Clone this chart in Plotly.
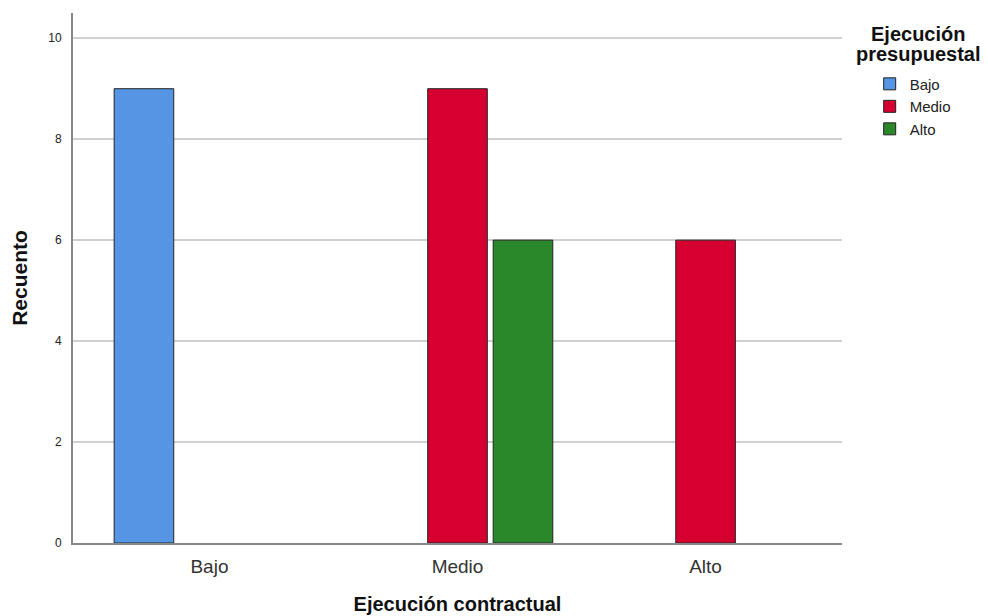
import plotly.graph_objects as go

categories = ["Bajo", "Medio", "Alto"]
serie_bajo = [9, None, None]
serie_medio = [None, 9, 6]
serie_alto = [None, 6, None]
series_names = ["Bajo", "Medio", "Alto"]
colors = ["#5595E3", "#D5002F", "#2A882A"]

FONT = "Liberation Sans, Arial, sans-serif"

fig = go.Figure()
for name, vals, col in zip(series_names, [serie_bajo, serie_medio, serie_alto], colors):
    fig.add_trace(go.Bar(
        x=categories, y=vals, name=name,
        marker=dict(color=col, line=dict(color="#222222", width=1)),
    ))

fig.update_layout(
    width=988, height=616,
    margin=dict(l=65, r=154, t=5, b=81, autoexpand=False),
    paper_bgcolor="white", plot_bgcolor="white",
    barmode="group", bargap=0.208, bargroupgap=0.09,
    font=dict(family=FONT, color="#222222"),
    showlegend=True,
    legend=dict(
        x=1.036, xanchor="left", y=0.897, yanchor="top",
        font=dict(size=15, family=FONT, color="#222222"),
        bgcolor="rgba(0,0,0,0)", tracegroupgap=0,
    ),
    xaxis=dict(
        range=[-0.55, 2.55], showgrid=False, zeroline=False,
        showline=True, linecolor="#888888", linewidth=2,
        ticks="", tickfont=dict(size=19, color="#333333"),
        ticklabelstandoff=5,
        title=dict(text="<b>Ejecución contractual</b>", font=dict(size=20, color="#111111"), standoff=21),
    ),
    yaxis=dict(
        range=[0, 10.5], dtick=2, tick0=0,
        showgrid=True, gridcolor="#D0D0D0", gridwidth=2,
        zeroline=False, showline=True, linecolor="#888888", linewidth=2,
        ticks="", tickfont=dict(size=12, color="#222222"),
        ticklabelstandoff=7,
        title=dict(text="<b>Recuento</b>", font=dict(size=21, color="#111111"), standoff=16),
    ),
    annotations=[
        dict(text="<b>Ejecución</b>", x=1.099, y=0.985, xref="paper", yref="paper",
             xanchor="center", yanchor="top", showarrow=False,
             font=dict(size=20, family=FONT, color="#111111")),
        dict(text="<b>presupuestal</b>", x=1.099, y=0.947, xref="paper", yref="paper",
             xanchor="center", yanchor="top", showarrow=False,
             font=dict(size=20, family=FONT, color="#111111")),
    ],
)

fig.write_html("out.html")
